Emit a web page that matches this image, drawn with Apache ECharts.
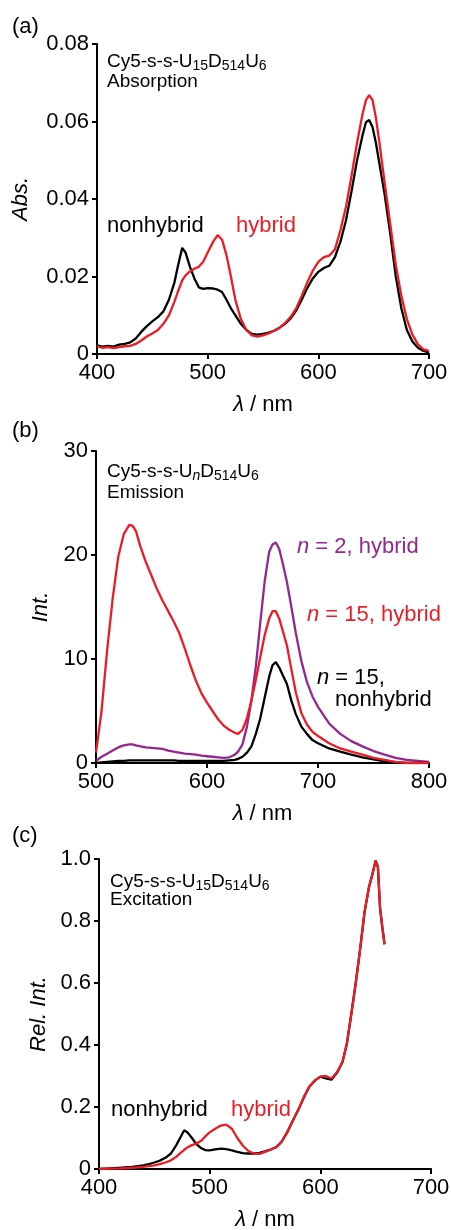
<!DOCTYPE html>
<html>
<head>
<meta charset="utf-8">
<script src="https://cdn.jsdelivr.net/npm/echarts@6/dist/echarts.min.js"></script>
<style>
  html, body { margin: 0; padding: 0; background: #ffffff; }
  #chart { width: 451px; height: 1230px; }
</style>
</head>
<body>
<div id="chart"></div>
<script>
// (a) absorption
const absWl = [400, 405, 410, 415, 420, 425, 430, 435, 440, 445, 450, 455, 460, 465, 470, 473, 477, 480, 484, 488, 492, 496, 500, 505, 509, 513, 517, 521, 525, 530, 535, 540, 545, 550, 555, 560, 565, 570, 575, 580, 585, 590, 595, 600, 605, 610, 615, 620, 625, 630, 635, 640, 643, 646, 649, 652, 655, 660, 665, 670, 675, 680, 685, 690, 695, 700];
const absNonhybrid = [0.0022, 0.0019, 0.0021, 0.0019, 0.0024, 0.0026, 0.0030, 0.0040, 0.0057, 0.0072, 0.0084, 0.0095, 0.0110, 0.0140, 0.0185, 0.0225, 0.0274, 0.0262, 0.0225, 0.0195, 0.0172, 0.0168, 0.0170, 0.0169, 0.0166, 0.0160, 0.0140, 0.0118, 0.0100, 0.0078, 0.0062, 0.0052, 0.0050, 0.0052, 0.0055, 0.0060, 0.0068, 0.0078, 0.0092, 0.0112, 0.0140, 0.0170, 0.0195, 0.0212, 0.0222, 0.0228, 0.0250, 0.0290, 0.0345, 0.0420, 0.0500, 0.0565, 0.0598, 0.0604, 0.0585, 0.0545, 0.0495, 0.0410, 0.0310, 0.0200, 0.0118, 0.0062, 0.0032, 0.0016, 0.0008, 0.0004];
const absHybrid = [0.0020, 0.0016, 0.0018, 0.0015, 0.0018, 0.0020, 0.0021, 0.0026, 0.0035, 0.0045, 0.0053, 0.0062, 0.0078, 0.0100, 0.0135, 0.0160, 0.0190, 0.0203, 0.0213, 0.0220, 0.0225, 0.0238, 0.0262, 0.0290, 0.0307, 0.0295, 0.0255, 0.0200, 0.0140, 0.0090, 0.0062, 0.0048, 0.0045, 0.0048, 0.0053, 0.0060, 0.0068, 0.0080, 0.0096, 0.0118, 0.0150, 0.0185, 0.0215, 0.0238, 0.0250, 0.0254, 0.0270, 0.0320, 0.0380, 0.0460, 0.0545, 0.0620, 0.0655, 0.0668, 0.0655, 0.0610, 0.0550, 0.0440, 0.0335, 0.0230, 0.0150, 0.0090, 0.0050, 0.0025, 0.0012, 0.0008];

// (b) emission
const emWl = [500, 505, 510, 515, 520, 525, 530, 533, 536, 540, 545, 550, 555, 560, 565, 570, 575, 580, 585, 590, 595, 600, 605, 610, 615, 620, 625, 628, 632, 636, 640, 644, 648, 652, 656, 659, 662, 665, 668, 672, 676, 680, 685, 690, 695, 700, 710, 720, 730, 740, 750, 760, 770, 780, 790, 800];
const emN15Hybrid = [1.0, 5.0, 10.8, 15.8, 19.8, 22.0, 22.9, 22.8, 22.3, 20.8, 19.3, 18.0, 16.7, 15.6, 14.6, 13.6, 12.5, 11.0, 9.4, 7.9, 6.7, 5.8, 5.0, 4.2, 3.6, 3.2, 2.9, 2.8, 3.2, 4.3, 6.0, 8.0, 10.2, 12.3, 13.9, 14.6, 14.6, 13.9, 12.8, 11.3, 9.0, 6.8, 4.8, 3.7, 3.0, 2.6, 1.9, 1.4, 1.1, 0.8, 0.5, 0.3, 0.1, 0.0, 0.0, 0.0];
const emN2Hybrid = [0.2, 0.6, 0.9, 1.2, 1.5, 1.7, 1.8, 1.8, 1.7, 1.6, 1.5, 1.45, 1.4, 1.35, 1.2, 1.1, 1.0, 0.9, 0.85, 0.8, 0.7, 0.65, 0.6, 0.55, 0.5, 0.55, 0.8, 1.1, 1.8, 3.5, 6.0, 9.3, 13.5, 17.5, 20.3, 21.0, 21.2, 20.6, 19.3, 17.4, 15.0, 12.5, 9.8, 7.8, 6.4, 5.4, 3.8, 2.8, 2.1, 1.6, 1.15, 0.8, 0.5, 0.3, 0.2, 0.1];
const emN15Nonhybrid = [0.0, 0.05, 0.1, 0.15, 0.2, 0.2, 0.25, 0.25, 0.25, 0.25, 0.25, 0.25, 0.25, 0.25, 0.25, 0.25, 0.2, 0.2, 0.2, 0.2, 0.2, 0.2, 0.2, 0.2, 0.2, 0.25, 0.3, 0.4, 0.6, 1.0, 1.6, 2.8, 4.3, 6.3, 8.3, 9.4, 9.7, 9.2, 8.5, 7.6, 6.0, 4.7, 3.5, 2.8, 2.2, 1.9, 1.4, 1.1, 0.8, 0.55, 0.35, 0.15, 0.05, 0.0, 0.0, 0.0];

// (c) excitation
const exWl = [400, 410, 420, 430, 440, 445, 450, 455, 460, 465, 470, 474, 477, 480, 484, 488, 492, 496, 500, 505, 510, 515, 520, 525, 530, 535, 540, 545, 550, 555, 560, 565, 570, 575, 580, 585, 590, 595, 600, 605, 610, 615, 620, 624, 628, 632, 636, 640, 644, 647, 650, 652, 654, 656, 658];
const exNonhybrid = [0.0, 0.002, 0.004, 0.007, 0.012, 0.016, 0.021, 0.027, 0.036, 0.050, 0.078, 0.105, 0.125, 0.118, 0.100, 0.080, 0.068, 0.061, 0.060, 0.063, 0.066, 0.064, 0.060, 0.055, 0.051, 0.050, 0.050, 0.052, 0.057, 0.063, 0.070, 0.088, 0.118, 0.155, 0.190, 0.230, 0.265, 0.285, 0.298, 0.292, 0.288, 0.310, 0.345, 0.405, 0.500, 0.600, 0.710, 0.830, 0.910, 0.950, 0.995, 0.975, 0.840, 0.780, 0.725];
const exHybrid = [0.0, 0.001, 0.002, 0.004, 0.007, 0.009, 0.012, 0.016, 0.021, 0.028, 0.040, 0.053, 0.062, 0.070, 0.077, 0.082, 0.090, 0.105, 0.118, 0.130, 0.140, 0.143, 0.130, 0.100, 0.075, 0.058, 0.050, 0.049, 0.055, 0.062, 0.070, 0.087, 0.118, 0.155, 0.190, 0.232, 0.265, 0.285, 0.298, 0.300, 0.292, 0.312, 0.345, 0.405, 0.500, 0.600, 0.710, 0.830, 0.910, 0.950, 0.995, 0.975, 0.840, 0.780, 0.725];

const RED = '#ec1c24';
const PURPLE = '#93278f';
const BLACK = '#000000';
const FONT = 'Liberation Sans, Arial, sans-serif';

function pairs(xs, ys) {
  return xs.map((x, i) => [x, ys[i]]);
}

function xAxisFor(gridIndex, min, max) {
  return {
    type: 'value', gridIndex: gridIndex, min: min, max: max, interval: 100,
    name: '{i|λ} / nm', nameLocation: 'middle', nameGap: 40,
    nameTextStyle: {
      color: BLACK, fontSize: 22, fontFamily: FONT,
      rich: { i: { fontStyle: 'italic', fontSize: 22, fontFamily: FONT, color: BLACK } }
    },
    axisLine: { lineStyle: { color: BLACK, width: 2 } },
    axisTick: { inside: false, length: 5, lineStyle: { color: BLACK, width: 2 } },
    axisLabel: { color: BLACK, fontSize: 22, fontFamily: FONT, margin: 8 },
    splitLine: { show: false }
  };
}

function yAxisFor(gridIndex, max, interval, name, gap, fmt) {
  return {
    type: 'value', gridIndex: gridIndex, min: 0, max: max, interval: interval,
    name: name, nameLocation: 'middle', nameGap: gap,
    nameTextStyle: { color: BLACK, fontSize: 22, fontFamily: FONT, fontStyle: 'italic' },
    axisLine: { show: true, lineStyle: { color: BLACK, width: 2 } },
    axisTick: { show: true, inside: false, length: 5, lineStyle: { color: BLACK, width: 2 } },
    axisLabel: { color: BLACK, fontSize: 22, fontFamily: FONT, margin: 8, formatter: fmt },
    splitLine: { show: false }
  };
}

function lineSeries(xi, data, color) {
  return {
    type: 'line', xAxisIndex: xi, yAxisIndex: xi, data: data,
    showSymbol: false, symbol: 'none', smooth: false,
    lineStyle: { color: color, width: 2.3 }, silent: true
  };
}

function txt(x, y, text, color, size, rich) {
  return {
    type: 'text', x: x, y: y, silent: true,
    style: {
      text: text, fill: color, fontSize: size, fontFamily: FONT,
      textAlign: 'left', textVerticalAlign: 'middle', rich: rich
    }
  };
}

const subRich = {
  m: { fontSize: 19, fontFamily: FONT, color: BLACK, lineHeight: 22 },
  s: { fontSize: 14, fontFamily: FONT, color: BLACK, lineHeight: 14, verticalAlign: 'bottom' },
  si: { fontSize: 14, fontFamily: FONT, color: BLACK, lineHeight: 14, verticalAlign: 'bottom', fontStyle: 'italic' }
};
const nRich = {
  i: { fontStyle: 'italic', fontSize: 22, fontFamily: FONT }
};

let myChart = echarts.init(document.getElementById('chart'), null, { renderer: 'canvas' });

let option = {
  animation: false,
  backgroundColor: '#ffffff',
  grid: [
    { left: 97, top: 44, width: 332, height: 310, outerBoundsMode: 'none' },
    { left: 96, top: 451, width: 333, height: 312, outerBoundsMode: 'none' },
    { left: 99, top: 859, width: 332, height: 310, outerBoundsMode: 'none' }
  ],
  xAxis: [
    xAxisFor(0, 400, 700),
    xAxisFor(1, 500, 800),
    xAxisFor(2, 400, 700)
  ],
  yAxis: [
    yAxisFor(0, 0.08, 0.02, 'Abs.', 65, v => v === 0 ? '0' : v.toFixed(2)),
    yAxisFor(1, 30, 10, 'Int.', 44, v => String(v)),
    yAxisFor(2, 1.0, 0.2, 'Rel. Int.', 46, v => v === 0 ? '0' : v.toFixed(1))
  ],
  series: [
    lineSeries(0, pairs(absWl, absNonhybrid), BLACK),
    lineSeries(0, pairs(absWl, absHybrid), RED),
    lineSeries(1, pairs(emWl, emN2Hybrid), PURPLE),
    lineSeries(1, pairs(emWl, emN15Nonhybrid), BLACK),
    lineSeries(1, pairs(emWl, emN15Hybrid), RED),
    lineSeries(2, pairs(exWl, exNonhybrid), BLACK),
    lineSeries(2, pairs(exWl, exHybrid), RED)
  ],
  graphic: [
    // panel letters
    txt(12, 27, '(a)', BLACK, 22),
    txt(12, 431, '(b)', BLACK, 22),
    txt(12, 836, '(c)', BLACK, 22),
    // sample captions
    txt(107, 62, '{m|Cy5-s-s-U}{s|15}{m|D}{s|514}{m|U}{s|6}', BLACK, 19, subRich),
    txt(107, 82, 'Absorption', BLACK, 19),
    txt(107, 472, '{m|Cy5-s-s-U}{si|n}{m|D}{s|514}{m|U}{s|6}', BLACK, 19, subRich),
    txt(107, 493, 'Emission', BLACK, 19),
    txt(110, 882, '{m|Cy5-s-s-U}{s|15}{m|D}{s|514}{m|U}{s|6}', BLACK, 19, subRich),
    txt(110, 900, 'Excitation', BLACK, 19),
    // curve labels
    txt(107, 226, 'nonhybrid', BLACK, 22),
    txt(236, 226, 'hybrid', RED, 22),
    txt(297, 547, '{i|n} = 2, hybrid', PURPLE, 22, nRich),
    txt(307, 615, '{i|n} = 15, hybrid', RED, 22, nRich),
    txt(317, 678, '{i|n} = 15,', BLACK, 22, nRich),
    txt(335, 700, 'nonhybrid', BLACK, 22),
    txt(111, 1110, 'nonhybrid', BLACK, 22),
    txt(231, 1110, 'hybrid', RED, 22)
  ]
};

myChart.setOption(option, true);
window.addEventListener('resize', myChart.resize);
</script>
</body>
</html>
